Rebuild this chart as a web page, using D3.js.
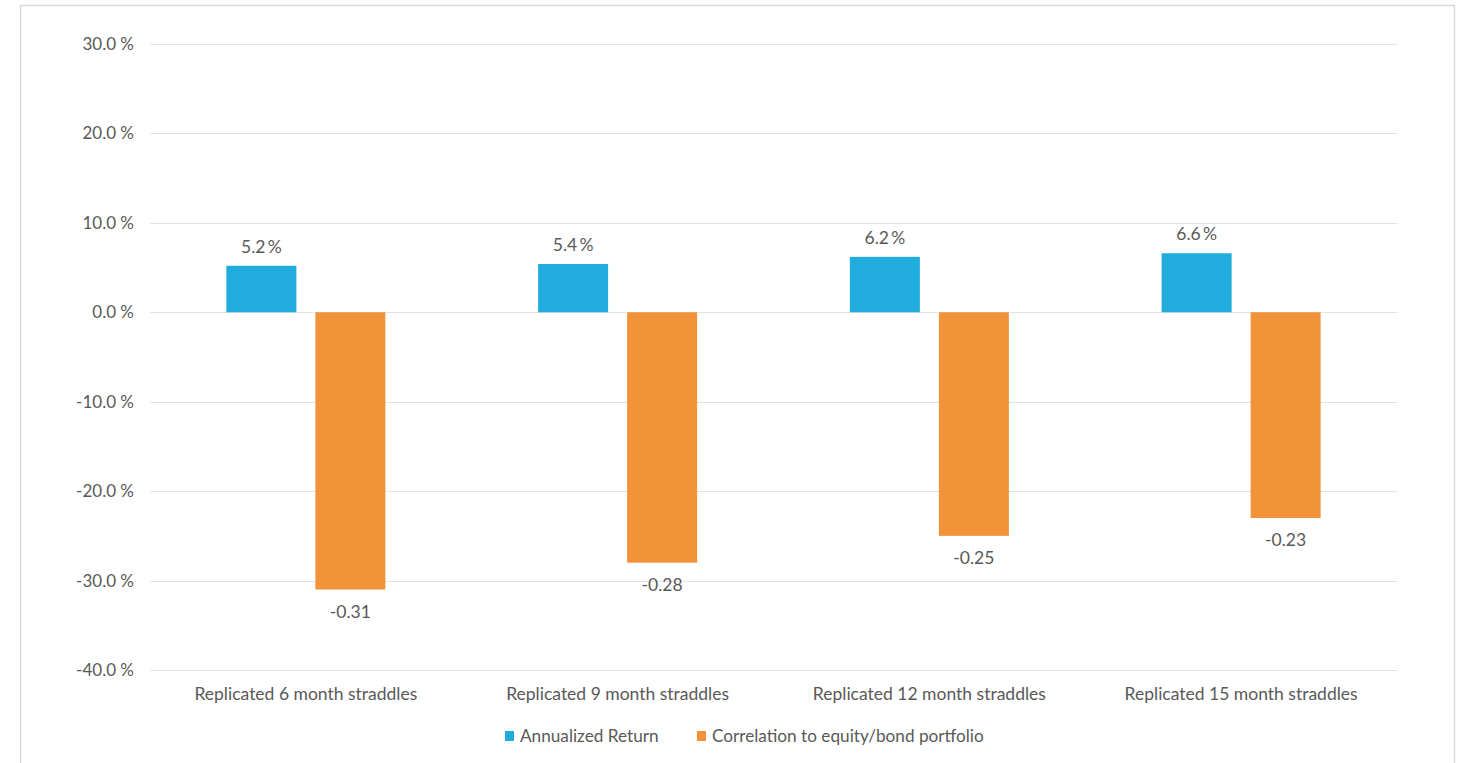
<!DOCTYPE html>
<html>
<head>
<meta charset="utf-8">
<script src="https://cdn.jsdelivr.net/npm/d3@7"></script>
<style>
  html, body { margin: 0; padding: 0; background: #fff; }
  svg { display: block; }
  text { font-family: Lato, "Open Sans", sans-serif; fill: #595959; }
</style>
</head>
<body>
<svg id="chart" width="1465" height="763"></svg>
<script>
// Straddle strategies compared on return and correlation
const categories = [
  "Replicated 6 month straddles",
  "Replicated 9 month straddles",
  "Replicated 12 month straddles",
  "Replicated 15 month straddles"
];
const annualizedReturn = [5.2, 5.4, 6.2, 6.6];          // percent
const correlation = [-0.31, -0.28, -0.25, -0.23];        // coefficient, plotted on the % axis
const seriesNames = ["Annualized Return", "Correlation to equity/bond portfolio"];
const yTicks = [30, 20, 10, 0, -10, -20, -30, -40];

const colors = ["#20ADDE", "#F29239"];

// plain hyphen for negatives
const loc = d3.formatLocale({ decimal: ".", thousands: ",", grouping: [3], currency: ["", ""], minus: "-" });
const f1 = loc.format(".1f"), f2 = loc.format(".2f");

const svg = d3.select("#chart");
const plot = { left: 150, right: 1397, top: 44, bottom: 670 };

// outer frame
svg.append("rect")
  .attr("x", 20.5).attr("y", 5.5)
  .attr("width", 1434).attr("height", 780)
  .attr("fill", "#fff").attr("stroke", "#d9d9d9").attr("stroke-width", 1.5);

const y = d3.scaleLinear().domain([-40, 30]).range([plot.bottom, plot.top]);
const x0 = d3.scaleBand().domain(categories).range([plot.left, plot.right]);
const clusterW = 159;
const x1 = d3.scaleBand().domain([0, 1]).range([0, clusterW]).paddingInner(19 / 89);
const groupOffset = (x0.bandwidth() - clusterW) / 2;

// gridlines
svg.append("g")
  .selectAll("line").data(yTicks).join("line")
  .attr("x1", plot.left).attr("x2", plot.right)
  .attr("y1", d => Math.round(y(d)) + 0.5).attr("y2", d => Math.round(y(d)) + 0.5)
  .attr("stroke", "#e3e3e3").attr("stroke-width", 1.2);

// y axis labels
const yAxis = d3.axisLeft(y).tickValues(yTicks).tickSize(0).tickPadding(0)
  .tickFormat(d => f1(d) + " %");
const ya = svg.append("g").attr("transform", `translate(134,0)`).call(yAxis);
ya.select(".domain").remove();
ya.selectAll("text").attr("font-size", 17).attr("fill", "#595959")
  .style("font-family", 'Lato, sans-serif');

// bars
const rows = categories.map((c, i) => ({ cat: c, vals: [annualizedReturn[i], correlation[i] * 100], raw: [annualizedReturn[i], correlation[i]] }));
const groups = svg.append("g").selectAll("g").data(rows).join("g")
  .attr("transform", d => `translate(${x0(d.cat) + groupOffset},0)`);

groups.selectAll("rect").data(d => d.vals.map((v, k) => ({ v, k }))).join("rect")
  .attr("x", d => x1(d.k))
  .attr("width", x1.bandwidth())
  .attr("y", d => y(Math.max(0, d.v)))
  .attr("height", d => Math.abs(y(d.v) - y(0)))
  .attr("fill", d => colors[d.k]);

// value labels
groups.selectAll("text.val").data(d => d.raw.map((v, k) => ({ v, k }))).join("text")
  .attr("class", "val")
  .attr("x", d => x1(d.k) + x1.bandwidth() / 2)
  .attr("y", d => d.k === 0 ? y(d.v) - 13 : y(d.v * 100) + 28)
  .attr("text-anchor", "middle")
  .attr("font-size", 17.5)
  .text(d => d.k === 0 ? f1(d.v) + "\u2009%" : f2(d.v));

// category labels
svg.append("g").selectAll("text").data(categories).join("text")
  .attr("x", d => x0(d) + x0.bandwidth() / 2)
  .attr("y", 700)
  .attr("text-anchor", "middle")
  .attr("font-size", 17.5)
  .text(d => d);

// legend
const legendX = [505, 697];
const lg = svg.append("g").selectAll("g").data(seriesNames).join("g")
  .attr("transform", (d, i) => `translate(${legendX[i]},736)`);
lg.append("rect").attr("x", 0).attr("y", -5).attr("width", 9).attr("height", 10)
  .attr("fill", (d, i) => colors[i]);
lg.append("text").attr("x", 15).attr("y", 6).attr("font-size", 17.2).text(d => d);
</script>
</body>
</html>
